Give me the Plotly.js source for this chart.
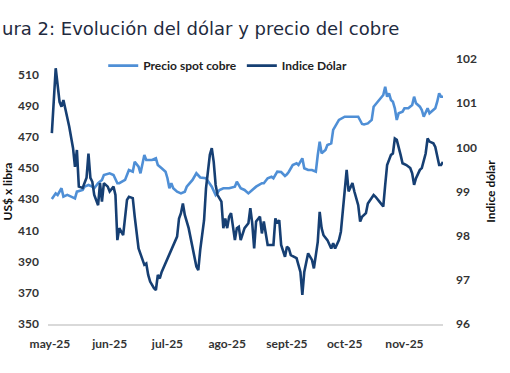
<!DOCTYPE html>
<html>
<head>
<meta charset="utf-8">
<script src="https://cdn.plot.ly/plotly-3.0.1.min.js"></script>
<style>html,body{margin:0;padding:0;background:#fff;}#chart{width:510px;height:373px;}</style>
</head>
<body>
<div id="chart"></div>
<script>
const titleText = "ura 2: Evolución del dólar y precio del cobre";
const copperName = "Precio spot cobre";
const dollarName = "Indice Dólar";
const leftAxisTitle = "US$ x libra";
const rightAxisTitle = "Indice dólar";

const copperDates = ["2025-05-02","2025-05-04","2025-05-05","2025-05-07","2025-05-08","2025-05-10","2025-05-12","2025-05-14","2025-05-15","2025-05-18","2025-05-19","2025-05-21","2025-05-23","2025-05-24","2025-05-26","2025-05-28","2025-05-29","2025-06-01","2025-06-03","2025-06-05","2025-06-06","2025-06-07","2025-06-09","2025-06-11","2025-06-13","2025-06-14","2025-06-16","2025-06-17","2025-06-19","2025-06-20","2025-06-23","2025-06-25","2025-06-26","2025-06-28","2025-06-30","2025-07-01","2025-07-02","2025-07-03","2025-07-04","2025-07-06","2025-07-08","2025-07-10","2025-07-11","2025-07-14","2025-07-16","2025-07-18","2025-07-21","2025-07-24","2025-07-26","2025-07-28","2025-07-30","2025-08-02","2025-08-05","2025-08-06","2025-08-08","2025-08-10","2025-08-12","2025-08-14","2025-08-16","2025-08-19","2025-08-20","2025-08-22","2025-08-24","2025-08-25","2025-08-27","2025-08-29","2025-08-31","2025-09-01","2025-09-02","2025-09-04","2025-09-06","2025-09-07","2025-09-09","2025-09-10","2025-09-12","2025-09-14","2025-09-16","2025-09-17","2025-09-18","2025-09-19","2025-09-21","2025-09-22","2025-09-24","2025-09-25","2025-09-27","2025-09-28","2025-10-01","2025-10-04","2025-10-08","2025-10-10","2025-10-11","2025-10-13","2025-10-15","2025-10-16","2025-10-18","2025-10-20","2025-10-21","2025-10-22","2025-10-23","2025-10-24","2025-10-25","2025-10-26","2025-10-27","2025-10-28","2025-10-29","2025-10-31","2025-11-01","2025-11-03","2025-11-05","2025-11-06","2025-11-07","2025-11-09","2025-11-10","2025-11-11","2025-11-13","2025-11-14","2025-11-16","2025-11-17","2025-11-18","2025-11-19","2025-11-20","2025-11-21"];
const copperValues = [430.2,433.8,432.8,437.1,431.7,432.8,431.7,430.6,434.9,436.0,438.1,439.2,438.1,437.1,440.3,442.4,445.6,446.7,445.6,440.3,440.3,441.0,442.4,448.8,447.7,454.1,450.9,446.7,458.4,455.2,455.2,456.3,452.0,449.9,447.7,443.5,437.1,440.3,437.1,434.9,433.8,434.9,438.1,442.4,446.7,444.0,443.5,438.1,432.8,436.0,437.1,437.1,438.1,441.3,437.1,436.0,433.8,436.0,438.1,440.3,440.3,443.5,444.5,443.5,447.7,447.5,445.0,446.0,447.7,452.0,453.1,452.0,456.3,449.9,448.8,448.8,447.7,458.4,466.9,459.5,461.6,464.8,465.9,474.5,478.7,480.9,483.0,483.0,483.0,478.3,478.0,478.7,480.9,489.4,492.6,495.8,496.9,502.2,495.8,498.0,493.7,492.6,488.4,480.9,485.2,486.2,488.4,488.4,490.5,495.8,491.6,489.4,487.3,483.0,488.4,485.2,487.3,488.4,492.6,498.0,495.8,495.8];

const dollarDates = ["2025-05-02","2025-05-04","2025-05-06","2025-05-07","2025-05-08","2025-05-09","2025-05-11","2025-05-13","2025-05-14","2025-05-15","2025-05-16","2025-05-18","2025-05-20","2025-05-21","2025-05-22","2025-05-23","2025-05-24","2025-05-26","2025-05-27","2025-05-28","2025-05-29","2025-05-31","2025-06-01","2025-06-03","2025-06-04","2025-06-05","2025-06-06","2025-06-08","2025-06-10","2025-06-11","2025-06-13","2025-06-14","2025-06-16","2025-06-19","2025-06-20","2025-06-21","2025-06-22","2025-06-24","2025-06-25","2025-06-26","2025-06-27","2025-06-28","2025-07-01","2025-07-03","2025-07-04","2025-07-06","2025-07-07","2025-07-08","2025-07-09","2025-07-10","2025-07-12","2025-07-14","2025-07-16","2025-07-17","2025-07-18","2025-07-20","2025-07-21","2025-07-23","2025-07-24","2025-07-25","2025-07-26","2025-07-27","2025-07-29","2025-07-30","2025-07-31","2025-08-01","2025-08-02","2025-08-03","2025-08-05","2025-08-06","2025-08-07","2025-08-08","2025-08-10","2025-08-12","2025-08-13","2025-08-14","2025-08-15","2025-08-16","2025-08-18","2025-08-19","2025-08-20","2025-08-22","2025-08-25","2025-08-26","2025-08-27","2025-08-28","2025-08-29","2025-08-31","2025-09-01","2025-09-02","2025-09-03","2025-09-06","2025-09-07","2025-09-08","2025-09-09","2025-09-10","2025-09-12","2025-09-14","2025-09-15","2025-09-17","2025-09-18","2025-09-19","2025-09-20","2025-09-22","2025-09-24","2025-09-25","2025-09-26","2025-09-28","2025-09-29","2025-09-30","2025-10-01","2025-10-02","2025-10-03","2025-10-05","2025-10-06","2025-10-08","2025-10-09","2025-10-10","2025-10-12","2025-10-13","2025-10-16","2025-10-17","2025-10-19","2025-10-21","2025-10-22","2025-10-23","2025-10-25","2025-10-26","2025-10-27","2025-10-28","2025-10-30","2025-10-31","2025-11-02","2025-11-04","2025-11-05","2025-11-06","2025-11-07","2025-11-09","2025-11-10","2025-11-12","2025-11-13","2025-11-14","2025-11-16","2025-11-17","2025-11-19","2025-11-20","2025-11-21"];
const dollarValues = [100.32,101.79,101.03,100.92,101.07,100.89,100.47,99.98,99.56,99.94,99.11,99.08,99.31,99.86,99.31,99.22,98.92,98.69,99.19,98.77,99.19,99.11,99.00,99.11,98.92,97.90,98.17,98.01,98.81,98.88,98.85,98.43,97.71,97.34,97.37,97.11,96.96,96.81,96.77,97.11,97.03,97.18,97.49,97.71,97.79,97.98,98.39,98.51,98.73,98.47,98.17,97.71,97.30,97.22,97.68,98.35,99.07,99.83,99.98,99.67,99.15,98.92,98.77,98.17,98.39,98.17,98.43,98.51,97.90,98.17,98.20,97.90,98.17,98.28,98.62,98.28,97.71,98.32,98.43,98.05,98.32,97.79,97.79,98.39,98.28,98.35,97.79,97.52,97.75,97.71,97.56,97.49,97.34,97.18,96.66,97.18,97.60,97.45,97.26,97.86,98.54,98.17,98.01,97.90,97.71,97.83,97.71,97.90,98.09,98.54,98.96,99.49,99.00,99.19,99.00,98.69,98.32,98.43,98.51,98.73,98.92,98.88,98.77,98.66,99.15,99.60,99.83,99.86,100.20,100.17,99.83,99.64,99.60,99.53,99.41,99.15,99.30,99.49,99.53,99.86,100.20,100.13,100.09,100.01,99.60,99.60,99.67];

const monthTickDates = ["2025-05-01","2025-06-01","2025-07-01","2025-08-01","2025-09-01","2025-10-01","2025-11-01"];
const monthTickLabels = ["may-25","jun-25","jul-25","ago-25","sept-25","oct-25","nov-25"];
const leftTicks = [350,370,390,410,430,450,470,490,510];
const rightTicks = [96,97,98,99,100,101,102];

const tickFont = {family: "Lato, 'Open Sans', sans-serif", size: 12, color: "#333333", weight: "bold"};

const traces = [
  {x: copperDates, y: copperValues, name: copperName, type: "scatter", mode: "lines",
   line: {color: "#4f8fd6", width: 2.6}, yaxis: "y"},
  {x: dollarDates, y: dollarValues, name: dollarName, type: "scatter", mode: "lines",
   line: {color: "#163f73", width: 2.6}, yaxis: "y2"}
];

const layout = {
  width: 510, height: 373,
  margin: {l: 48, r: 67, t: 59, b: 49},
  paper_bgcolor: "#ffffff", plot_bgcolor: "#ffffff",
  showlegend: true,
  title: {text: titleText, xref: "container", yref: "container", x: 0.004, xanchor: "left",
          y: 0.924, yanchor: "middle",
          font: {family: "'DejaVu Sans', Verdana, sans-serif", size: 18, color: "#1f2b40"}},
  legend: {orientation: "h", xref: "paper", yref: "paper", x: 0.455, xanchor: "center",
           y: 0.975, yanchor: "middle", bgcolor: "rgba(0,0,0,0)",
           font: {family: "Lato, 'Open Sans', sans-serif", size: 12, color: "#222222", weight: "bold"},
           itemwidth: 30, tracegroupgap: 0},
  xaxis: {type: "date", range: ["2025-04-30", "2025-11-21"], tickvals: monthTickDates, ticktext: monthTickLabels,
          showgrid: false, zeroline: false, showline: true, linecolor: "#d9d9d9", linewidth: 1.5,
          ticks: "", tickfont: tickFont, ticklabelstandoff: 8},
  yaxis: {range: [350, 520], tickvals: leftTicks, showgrid: false, zeroline: false, showline: false,
          ticks: "", tickfont: tickFont, ticklabelstandoff: 8,
          title: {text: leftAxisTitle, standoff: 4, font: {family: "Lato, 'Open Sans', sans-serif", size: 12, color: "#111111", weight: "bold"}}},
  yaxis2: {range: [96, 102], tickvals: rightTicks, overlaying: "y", side: "right", showgrid: false,
           zeroline: false, showline: false, ticks: "", tickfont: tickFont, ticklabelstandoff: 12,
           title: {text: rightAxisTitle, standoff: 10, font: {family: "Lato, 'Open Sans', sans-serif", size: 12, color: "#111111", weight: "bold"}}}
};

Plotly.newPlot("chart", traces, layout, {staticPlot: true, displayModeBar: false});
</script>
</body>
</html>
